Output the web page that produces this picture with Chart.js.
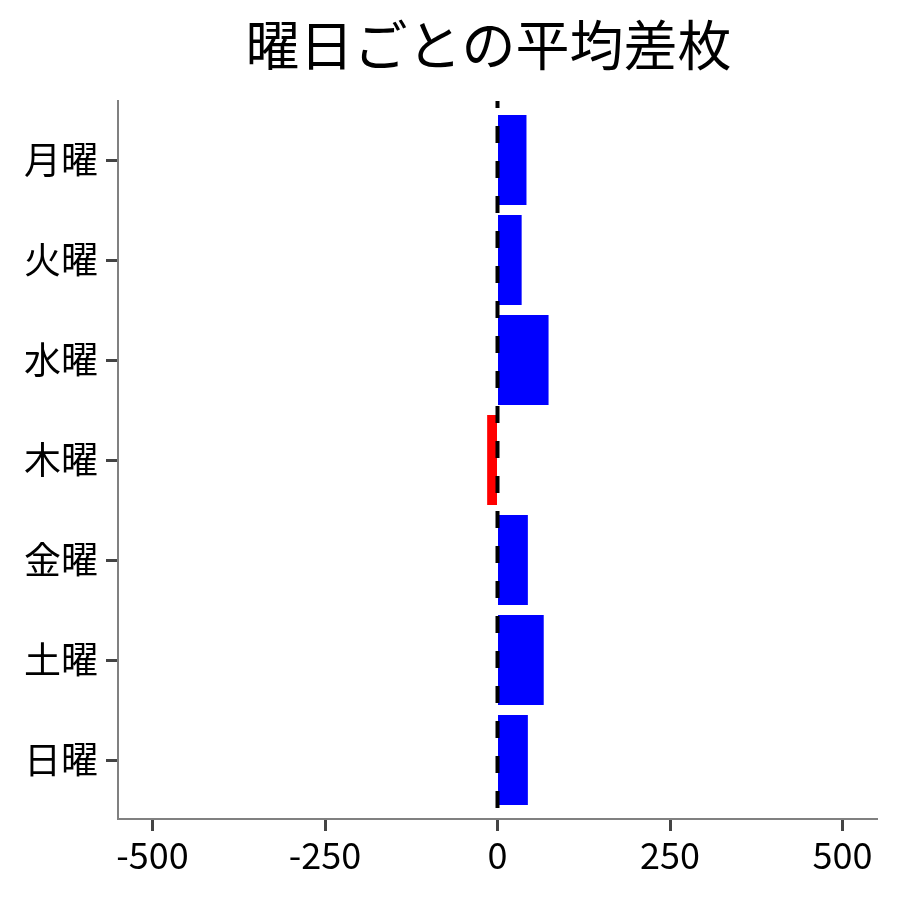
<!DOCTYPE html>
<html>
<head>
<meta charset="utf-8">
<script src="https://cdn.jsdelivr.net/npm/chart.js@4"></script>
<style>
  body { margin: 0; background: #fff; }
  #wrap { width: 900px; height: 900px; }
</style>
</head>
<body>
<div id="wrap"><canvas id="chart" width="900" height="900"></canvas></div>
<script>
const days = ['月曜', '火曜', '水曜', '木曜', '金曜', '土曜', '日曜'];
const avgDiff = [42, 35, 74, -15, 44, 67, 44];
const xTicks = [-500, -250, 0, 250, 500];
const titleText = '曜日ごとの平均差枚';

const FONT = '"Noto Sans CJK JP", "Noto Sans", sans-serif';

// title centred over the plot area, dashed zero line on top of the bars
const extras = {
  id: 'extras',
  afterDatasetsDraw(chart) {
    const { ctx, chartArea, scales } = chart;
    const x0 = scales.x.getPixelForValue(0);
    ctx.save();
    ctx.strokeStyle = '#000';
    ctx.lineWidth = 4;
    ctx.setLineDash([17, 18]);
    ctx.lineDashOffset = 10;
    ctx.beginPath();
    ctx.moveTo(x0, chartArea.top);
    ctx.lineTo(x0, chartArea.bottom);
    ctx.stroke();
    ctx.restore();
  },
  afterDraw(chart) {
    const { ctx, chartArea } = chart;
    ctx.save();
    ctx.fillStyle = '#000';
    ctx.font = '54px ' + FONT;
    ctx.textAlign = 'center';
    ctx.textBaseline = 'middle';
    ctx.fillText(titleText, (chartArea.left + chartArea.right) / 2 - 9, 45);
    ctx.restore();
  }
};

new Chart(document.getElementById('chart'), {
  type: 'bar',
  data: {
    datasets: [{
      data: avgDiff.map((v, i) => ({ x: v, y: i })),
      backgroundColor: avgDiff.map(v => v < 0 ? '#ff0000' : '#0000ff'),
      barPercentage: 0.9,
      categoryPercentage: 1.0
    }]
  },
  options: {
    indexAxis: 'y',
    responsive: false,
    devicePixelRatio: 1,
    animation: false,
    layout: { padding: { top: 101, right: 23, left: 0, bottom: 0 } },
    plugins: { legend: { display: false }, title: { display: false }, tooltip: { enabled: false } },
    scales: {
      x: {
        type: 'linear',
        min: -550,
        max: 550,
        afterBuildTicks: s => { s.ticks = xTicks.map(v => ({ value: v })); },
        afterFit: s => { s.height = 81; },
        grid: { drawOnChartArea: false, drawTicks: true, tickLength: 12, tickWidth: 3, tickColor: '#444' },
        border: { display: true, color: '#808080', width: 2 },
        ticks: { color: '#000', font: { family: FONT, size: 36 }, padding: 3, maxRotation: 0 }
      },
      y: {
        type: 'linear',
        reverse: true,
        offset: false,
        min: -0.59,
        max: 6.59,
        afterBuildTicks: s => { s.ticks = days.map((d, i) => ({ value: i })); },
        afterFit: s => { s.width = 118; },
        grid: { offset: false, drawOnChartArea: false, drawTicks: true, tickLength: 12, tickWidth: 3, tickColor: '#444' },
        border: { display: true, color: '#808080', width: 2 },
        ticks: { color: '#000', font: { family: FONT, size: 37 }, padding: 8, callback: v => days[v] }
      }
    }
  },
  plugins: [extras]
});
</script>
</body>
</html>
